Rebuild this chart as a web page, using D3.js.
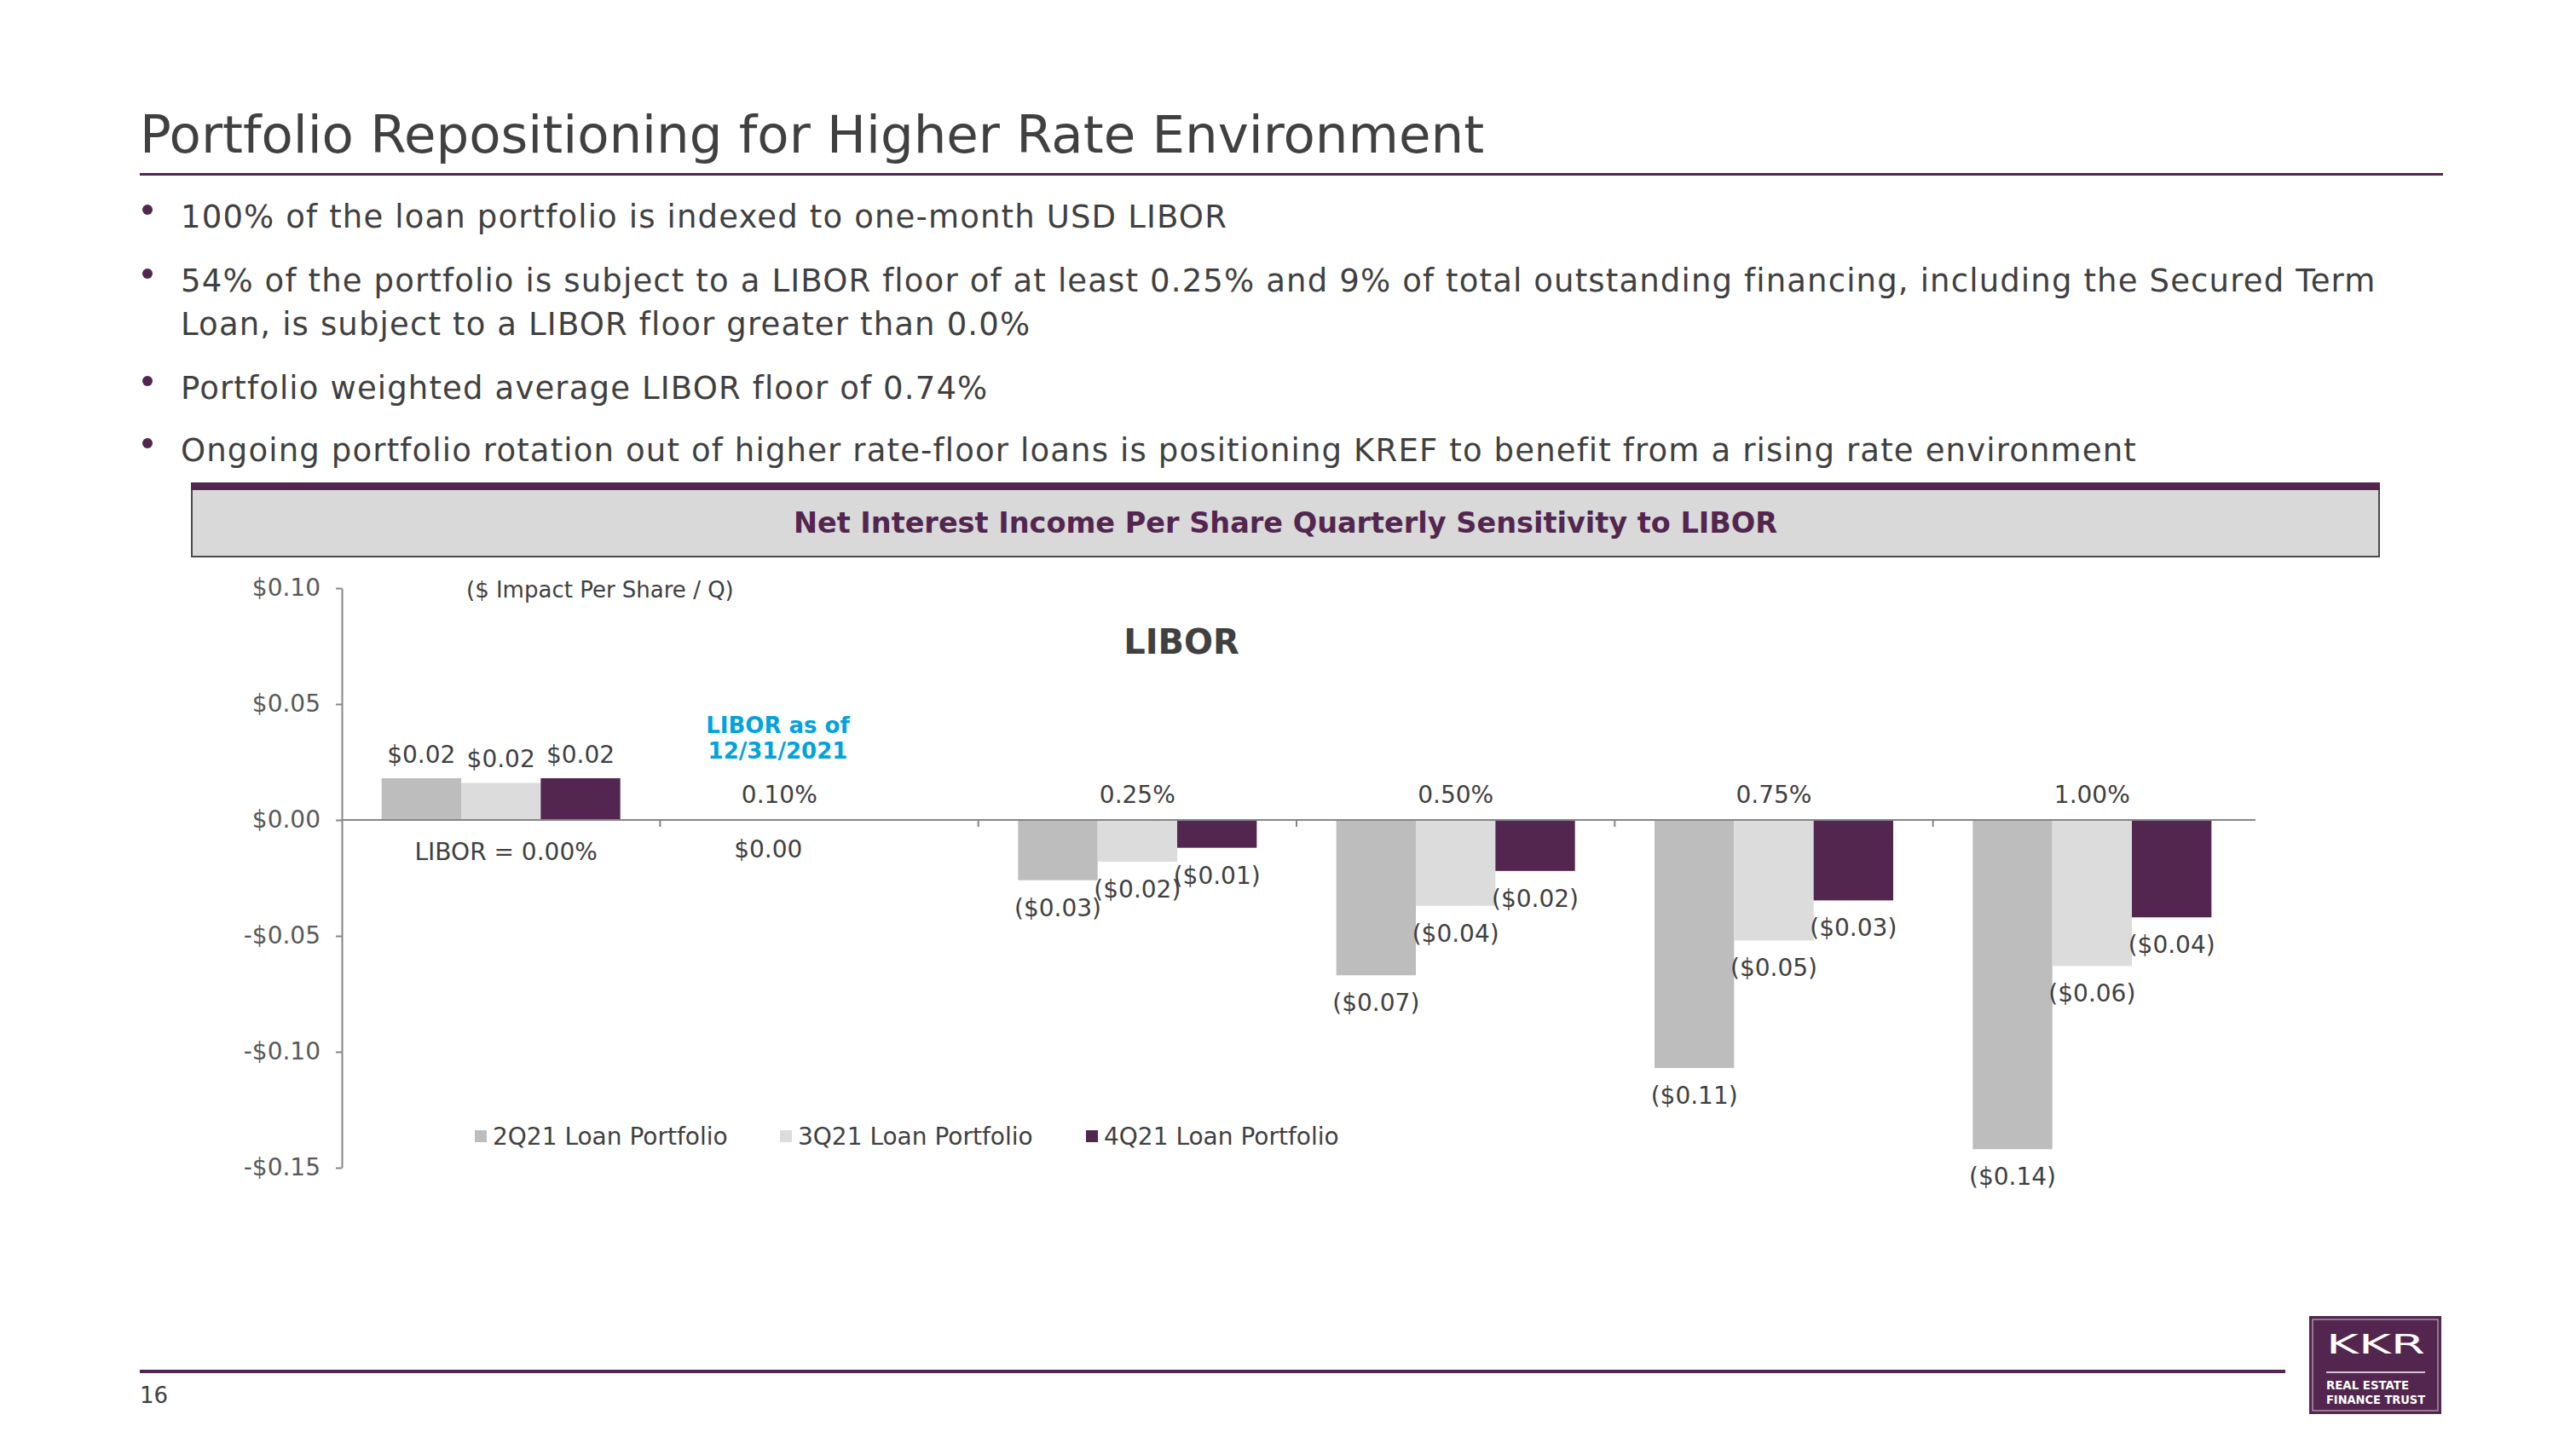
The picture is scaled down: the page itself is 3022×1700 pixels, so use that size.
<!DOCTYPE html>
<html>
<head>
<meta charset="utf-8">
<script src="https://cdn.jsdelivr.net/npm/d3@7"></script>
<style>
  html, body { margin: 0; padding: 0; background: #ffffff; }
  svg { display: block; }
  text { font-family: "DejaVu Sans", Verdana, sans-serif; }
</style>
</head>
<body>
<script>
// ---------- data ----------
const categories = ["LIBOR = 0.00%", "0.10%", "0.25%", "0.50%", "0.75%", "1.00%"];
const seriesNames = ["2Q21 Loan Portfolio", "3Q21 Loan Portfolio", "4Q21 Loan Portfolio"];
const q2Values = [0.018, 0.000, -0.026, -0.067, -0.107, -0.142];
const q3Values = [0.016, 0.000, -0.018, -0.037, -0.052, -0.063];
const q4Values = [0.018, 0.000, -0.012, -0.022, -0.0347, -0.042];
const yTicks = [0.10, 0.05, 0.00, -0.05, -0.10, -0.15];
const seriesColors = ["#BDBDBD", "#DCDCDC", "#52264F"];

const pageTitle = "Portfolio Repositioning for Higher Rate Environment";
const bullets = [
  ["100% of the loan portfolio is indexed to one-month USD LIBOR"],
  ["54% of the portfolio is subject to a LIBOR floor of at least 0.25% and 9% of total outstanding financing, including the Secured Term",
   "Loan, is subject to a LIBOR floor greater than 0.0%"],
  ["Portfolio weighted average LIBOR floor of 0.74%"],
  ["Ongoing portfolio rotation out of higher rate-floor loans is positioning KREF to benefit from a rising rate environment"]
];
const chartTitle = "Net Interest Income Per Share Quarterly Sensitivity to LIBOR";
const unitNote = "($ Impact Per Share / Q)";
const axisTitle = "LIBOR";
const currentNote = ["LIBOR as of", "12/31/2021"];
const pageNumber = "16";

const series = seriesNames.map((name, i) => ({
  name, color: seriesColors[i],
  values: [q2Values, q3Values, q4Values][i]
}));

// ---------- canvas ----------
const W = 3022, H = 1700;
const PURPLE = "#52264F", TXT = "#404040";
const svg = d3.select("body").append("svg").attr("width", W).attr("height", H);

// ---------- slide title ----------
svg.append("text").attr("x", 164).attr("y", 179)
  .attr("font-size", 61).attr("fill", TXT).text(pageTitle);
svg.append("rect").attr("x", 164).attr("y", 203).attr("width", 2866 - 164).attr("height", 3).attr("fill", PURPLE);

// ---------- bullets ----------
const bulletBaselines = [[267], [342, 393], [468], [541]];
bullets.forEach((lines, i) => {
  const b0 = bulletBaselines[i][0];
  svg.append("circle").attr("cx", 173).attr("cy", b0 - 21).attr("r", 6).attr("fill", PURPLE);
  lines.forEach((ln, j) => {
    svg.append("text").attr("x", 212).attr("y", bulletBaselines[i][j])
      .attr("font-size", 37).attr("letter-spacing", 1.15).attr("fill", TXT).text(ln);
  });
});

// ---------- chart header box ----------
svg.append("rect").attr("x", 225).attr("y", 574).attr("width", 2791 - 225).attr("height", 653 - 574)
  .attr("fill", "#D9D9D9").attr("stroke", "#4a4a4a").attr("stroke-width", 2);
svg.append("rect").attr("x", 224).attr("y", 566).attr("width", 2792 - 224).attr("height", 9).attr("fill", PURPLE);
svg.append("text").attr("x", 1508).attr("y", 625).attr("text-anchor", "middle")
  .attr("font-size", 33.5).attr("font-weight", "bold").attr("fill", PURPLE).text(chartTitle);

// ---------- scales ----------
const plotLeft = 401, plotRight = 2641, plotTop = 690, plotBottom = 1370;
const x = d3.scaleBand().domain(categories).range([plotLeft, plotRight]).paddingInner(0).paddingOuter(0);
const bw = x.bandwidth();
const x1 = d3.scaleBand().domain(seriesNames).range([bw * 0.125, bw * 0.875]).padding(0);
const y = d3.scaleLinear().domain([-0.15, 0.10]).range([plotBottom, plotTop]);

const money = v => {
  const s = "$" + Math.abs(v).toFixed(2);
  return v < -0.0049 ? "(" + s + ")" : s;
};
const tickFmt = v => (v < 0 ? "-$" : "$") + Math.abs(v).toFixed(2);

// ---------- y axis ----------
const yAxis = svg.append("g").attr("transform", `translate(${plotLeft},0)`)
  .call(d3.axisLeft(y).tickValues(yTicks).tickFormat(tickFmt).tickSize(7).tickSizeOuter(0).tickPadding(18));
yAxis.select(".domain").attr("stroke", "#868686").attr("stroke-width", 2);
yAxis.selectAll(".tick line").attr("stroke", "#868686").attr("stroke-width", 2);
yAxis.selectAll(".tick text").attr("font-size", 28).attr("fill", "#595959")
  .attr("font-family", "'DejaVu Sans', Verdana, sans-serif");

// ---------- bars ----------
const groups = svg.append("g").selectAll("g").data(categories).join("g")
  .attr("transform", d => `translate(${x(d)},0)`);
series.forEach(s => {
  groups.append("rect")
    .attr("x", x1(s.name))
    .attr("width", x1.bandwidth())
    .attr("y", (d, i) => y(Math.max(0, s.values[i])))
    .attr("height", (d, i) => Math.abs(y(s.values[i]) - y(0)))
    .attr("fill", s.color);
});

// ---------- zero line with category ticks ----------
svg.append("line").attr("x1", plotLeft).attr("x2", plotRight + 5).attr("y1", y(0)).attr("y2", y(0))
  .attr("stroke", "#868686").attr("stroke-width", 2);
svg.append("g").selectAll("line").data(categories.slice(1)).join("line")
  .attr("x1", d => x(d)).attr("x2", d => x(d)).attr("y1", y(0)).attr("y2", y(0) + 8)
  .attr("stroke", "#868686").attr("stroke-width", 2);

// ---------- data labels ----------
series.forEach(s => {
  groups.filter((d, i) => s.values[i] !== 0).append("text")
    .attr("x", x1(s.name) + x1.bandwidth() / 2)
    .attr("y", d => {
      const v = s.values[categories.indexOf(d)];
      return v > 0 ? y(v) - 18 : y(v) + 42;
    })
    .attr("text-anchor", "middle").attr("font-size", 28).attr("fill", TXT)
    .text(d => money(s.values[categories.indexOf(d)]));
});
// single zero label for the all-zero category
categories.forEach((c, i) => {
  if (series.every(s => s.values[i] === 0)) {
    svg.append("text").attr("x", x(c) + bw * 0.34).attr("y", y(0) + 44)
      .attr("text-anchor", "middle").attr("font-size", 28).attr("fill", TXT).text(money(0));
  }
});

// ---------- category labels ----------
categories.forEach((c, i) => {
  if (i === 0) {
    svg.append("text").attr("x", x(c) + bw / 2 + 6).attr("y", y(0) + 47)
      .attr("text-anchor", "middle").attr("font-size", 28).attr("fill", TXT).text(c);
  } else {
    const cx = (i === 1) ? x(c) + bw * 0.375 : x(c) + bw / 2;
    svg.append("text").attr("x", cx).attr("y", y(0) - 20)
      .attr("text-anchor", "middle").attr("font-size", 28).attr("fill", TXT).text(c);
  }
});

// ---------- annotations ----------
svg.append("text").attr("x", 547).attr("y", 701).attr("font-size", 26).attr("fill", TXT).text(unitNote);
svg.append("text").attr("x", 1386).attr("y", 767).attr("text-anchor", "middle")
  .attr("font-size", 40).attr("font-weight", "bold").attr("fill", TXT).text(axisTitle);
currentNote.forEach((t, i) => {
  svg.append("text").attr("x", x(categories[1]) + bw * 0.37).attr("y", 860 + i * 30)
    .attr("text-anchor", "middle").attr("font-size", 26).attr("font-weight", "bold")
    .attr("fill", "#00A3E0").text(t);
});

// ---------- legend ----------
const legendX = [557, 915, 1274];
series.forEach((s, i) => {
  svg.append("rect").attr("x", legendX[i]).attr("y", 1326).attr("width", 14).attr("height", 14).attr("fill", s.color);
  svg.append("text").attr("x", legendX[i] + 21).attr("y", 1343).attr("font-size", 28).attr("fill", TXT).text(s.name);
});

// ---------- footer ----------
svg.append("rect").attr("x", 164).attr("y", 1607).attr("width", 2681 - 164).attr("height", 4).attr("fill", PURPLE);
svg.append("text").attr("x", 164).attr("y", 1646).attr("font-size", 26).attr("fill", TXT).text(pageNumber);

// ---------- logo ----------
const logo = svg.append("g");
logo.append("rect").attr("x", 2709).attr("y", 1544).attr("width", 155).attr("height", 115).attr("fill", PURPLE);
logo.append("rect").attr("x", 2713).attr("y", 1548).attr("width", 147).attr("height", 107)
  .attr("fill", "none").attr("stroke", "#D8C4D6").attr("stroke-width", 1);
logo.append("text").attr("x", 2729).attr("y", 1588).attr("font-size", 32)
  .attr("font-family", "'Liberation Sans', Arial, sans-serif")
  .attr("textLength", 116).attr("lengthAdjust", "spacingAndGlyphs").attr("fill", "#ffffff").text("KKR");
logo.append("line").attr("x1", 2729).attr("x2", 2845).attr("y1", 1610).attr("y2", 1610)
  .attr("stroke", "#D8C4D6").attr("stroke-width", 2);
logo.append("text").attr("x", 2729).attr("y", 1630).attr("font-size", 14).attr("font-weight", "bold")
  .attr("font-family", "'Liberation Sans', Arial, sans-serif")
  .attr("textLength", 97).attr("lengthAdjust", "spacingAndGlyphs").attr("fill", "#ffffff").text("REAL ESTATE");
logo.append("text").attr("x", 2729).attr("y", 1647).attr("font-size", 14).attr("font-weight", "bold")
  .attr("font-family", "'Liberation Sans', Arial, sans-serif")
  .attr("textLength", 116).attr("lengthAdjust", "spacingAndGlyphs").attr("fill", "#ffffff").text("FINANCE TRUST");
</script>
</body>
</html>
